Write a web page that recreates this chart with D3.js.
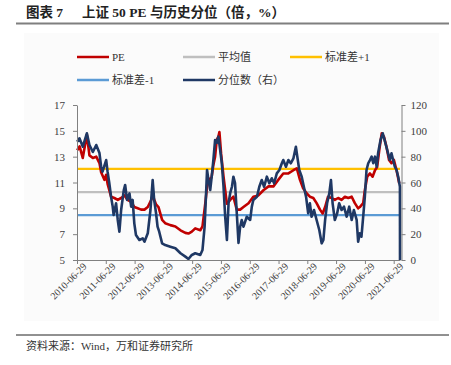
<!DOCTYPE html>
<html>
<head>
<meta charset="utf-8">
<script src="https://cdn.jsdelivr.net/npm/d3@7"></script>
<style>
  body { margin: 0; background: #fff; }
  text { font-family: "Liberation Serif", "Noto Sans CJK SC", serif; }
</style>
</head>
<body>
<div id="chart"></div>
<script>
// PE line (倍)
const peDates = ["2010-07-01","2010-08-01","2010-09-10","2010-11-01","2010-12-04","2011-01-16","2011-02-28","2011-04-10","2011-05-01","2011-06-13",
  "2011-07-04","2011-07-22","2011-08-13","2011-09-04","2011-10-16","2011-11-28","2012-01-10","2012-02-22","2012-04-01","2012-05-16",
  "2012-06-25","2012-08-07","2012-09-19","2012-11-01","2012-12-13","2013-01-25","2013-02-13","2013-03-28","2013-04-28","2013-06-13",
  "2013-07-22","2013-09-25","2013-11-28","2014-02-01","2014-04-04","2014-05-13","2014-06-25","2014-08-07","2014-10-10","2014-11-07",
  "2014-12-13","2015-01-16","2015-02-13","2015-03-04","2015-03-25","2015-04-16","2015-05-07","2015-05-28","2015-06-10","2015-07-01",
  "2015-08-01","2015-09-13","2015-10-25","2015-12-04","2016-01-16","2016-02-28","2016-04-10","2016-06-13","2016-08-13","2016-10-16",
  "2016-12-19","2017-02-22","2017-04-25","2017-06-25","2017-08-28","2017-11-01","2018-01-04","2018-02-16","2018-03-28","2018-05-07",
  "2018-06-22","2018-08-01","2018-09-13","2018-10-25","2018-12-07","2019-01-10","2019-02-10","2019-03-19","2019-05-04","2019-06-13",
  "2019-07-25","2019-09-07","2019-10-19","2019-12-01","2020-01-13","2020-02-22","2020-04-04","2020-04-25","2020-06-07","2020-06-28",
  "2020-07-28","2020-09-01","2020-10-04","2020-11-04","2020-12-01","2020-12-28","2021-01-28","2021-02-25","2021-03-28","2021-05-01",
  "2021-06-01","2021-07-01","2021-08-04","2021-09-07"];
const peValues = [13.5,13.8,12.9,14.7,13.1,12.9,13.0,12.5,11.8,11.2,
  11.6,10.9,10.4,9.9,9.8,9.65,9.8,10.0,9.65,9.5,
  9.1,9.0,8.9,8.9,9.1,9.65,10.0,9.3,9.1,8.1,
  7.85,7.7,7.6,7.3,7.1,7.05,7.2,7.45,7.3,7.6,
  9.4,11.35,11.2,11.45,12.35,13.0,14.3,14.55,14.9,13.25,
  11.45,9.35,9.65,9.9,8.9,8.9,9.1,9.4,9.9,10.0,
  10.4,10.7,10.7,11.2,11.7,11.7,11.95,12.1,11.2,10.55,
  10.15,9.9,9.8,9.4,8.9,8.6,9.1,9.9,9.8,9.65,
  9.8,9.65,9.9,9.8,9.9,9.4,9.0,9.1,9.4,10.4,
  11.45,11.7,11.45,11.95,12.2,13.5,14.8,14.55,13.8,12.75,
  12.5,12.75,11.95,10.95];

// 分位数 (右轴, %)
const pctDates = ["2010-07-01","2010-07-30","2010-09-11","2010-11-01","2010-12-04","2011-01-16","2011-02-28","2011-04-10","2011-05-01","2011-05-19",
  "2011-07-04","2011-07-22","2011-08-13","2011-09-04","2011-09-25","2011-10-07","2011-11-07","2011-11-28","2011-12-19","2012-01-10",
  "2012-02-13","2012-03-01","2012-03-25","2012-04-25","2012-05-16","2012-06-04","2012-06-25","2012-07-16","2012-08-28","2012-10-10",
  "2012-11-01","2012-12-13","2013-01-16","2013-02-13","2013-03-04","2013-03-28","2013-04-16","2013-05-07","2013-06-13","2013-07-22",
  "2013-09-25","2013-11-28","2014-02-01","2014-04-04","2014-05-13","2014-06-25","2014-08-07","2014-10-10","2014-11-07","2014-12-04",
  "2014-12-19","2015-01-04","2015-01-22","2015-02-13","2015-03-04","2015-03-25","2015-04-16","2015-05-07","2015-05-28","2015-06-19",
  "2015-07-10","2015-08-01","2015-08-22","2015-09-13","2015-10-04","2015-10-25","2015-11-16","2015-12-04","2015-12-25","2016-01-16",
  "2016-02-07","2016-02-28","2016-03-19","2016-04-10","2016-05-22","2016-07-04","2016-07-25","2016-08-13","2016-09-28","2016-10-28",
  "2016-11-28","2016-12-28","2017-02-01","2017-03-04","2017-04-04","2017-05-04","2017-06-07","2017-07-10","2017-08-10","2017-08-28",
  "2017-10-01","2017-11-01","2017-12-01","2018-01-04","2018-02-04","2018-02-22","2018-03-19","2018-04-19","2018-05-16","2018-06-13",
  "2018-07-10","2018-08-01","2018-08-22","2018-09-22","2018-10-25","2018-11-28","2018-12-28","2019-01-19","2019-02-10","2019-03-07",
  "2019-04-04","2019-04-25","2019-05-16","2019-06-13","2019-07-13","2019-08-07","2019-09-07","2019-10-07","2019-11-10","2019-12-13",
  "2020-01-13","2020-02-10","2020-03-16","2020-04-04","2020-04-25","2020-05-16","2020-06-07","2020-06-28","2020-07-19","2020-08-10",
  "2020-09-01","2020-09-22","2020-10-13","2020-11-04","2020-11-25","2020-12-13","2021-01-13","2021-02-10","2021-02-28","2021-03-28",
  "2021-04-19","2021-05-10","2021-06-01","2021-06-22","2021-07-13","2021-08-04","2021-08-25","2021-09-16","2021-09-17"];
const pctValues = [91.6,94.2,87.7,98.1,89,83.6,89,82.8,72.2,68.4,
  77.4,68.4,59.4,49,41.3,34.8,43.9,31,21.9,38.7,
  54.2,58.1,46.5,51.6,41.3,46.5,28.4,19.4,15.5,16.8,
  14.2,20.7,38.7,61.9,46.5,36.2,25.8,21.9,12.9,11.6,
  10.3,9.1,5.2,2.6,0.8,3.9,5.2,3.9,7.7,25.8,
  46.5,69.7,61.9,54.2,64.5,77.4,92.9,90.6,95.5,85.2,
  75.1,56.7,33.5,15.5,44.1,51.9,56.7,64.5,59.6,36.4,
  13.2,25.8,31,25.8,33.5,31,41.3,46.5,49,56.7,
  61.9,56.7,64.5,59.4,63.3,59.4,67.1,69.7,74.9,77.4,
  72.2,77.4,74.9,78.7,87.7,80,69.7,64.5,56.7,49,
  36.2,43.9,33.5,38.7,31,23.2,12.9,15.5,31,43.9,
  51.6,61.9,43.9,31,36.2,43.9,38.7,41.3,33.5,41.3,
  31,38.7,31,14.2,20.7,18,33.5,49,69.7,74.9,
  77.4,80,74.9,80,72.2,82.6,92.9,98.1,94.2,87.7,
  82.6,77.4,82.6,77.4,72.2,69.7,64.5,56.7,0];

const refNames = ["平均值", "标准差+1", "标准差-1"];
const refValues = [10.25, 12.05, 8.47];
const leftTicks = [5, 7, 9, 11, 13, 15, 17];
const rightTicks = [0, 20, 40, 60, 80, 100, 120];
const tickDates = ["2010-06-29","2011-06-29","2012-06-29","2013-06-29","2014-06-29","2015-06-29",
  "2016-06-29","2017-06-29","2018-06-29","2019-06-29","2020-06-29","2021-06-29"];

const W = 451, H = 365;
const m = { left: 77, right: 400, top: 105, bottom: 260 };
const parse = d3.timeParse("%Y-%m-%d");
const fmt = d3.timeFormat("%Y-%m-%d");

const svg = d3.select("#chart").append("svg").attr("width", W).attr("height", H);

// faint panel behind the chart
svg.append("rect").attr("x", 24).attr("y", 33).attr("width", 415).attr("height", 288).attr("fill", "#fbfbfb");

// title + rules
const title = svg.append("text").attr("x", 26).attr("y", 17).attr("font-size", 13.5).attr("font-weight", "bold")
  .attr("fill", "#222");
title.append("tspan").text("图表 7");
title.append("tspan").attr("x", 82).text("上证 50 PE 与历史分位（倍，%）");
svg.append("line").attr("x1", 16).attr("x2", 449).attr("y1", 23.5).attr("y2", 23.5)
  .attr("stroke", "#7f7f7f").attr("stroke-width", 2);
svg.append("line").attr("x1", 16).attr("x2", 449).attr("y1", 335).attr("y2", 335)
  .attr("stroke", "#222").attr("stroke-width", 1);
svg.append("text").attr("x", 26).attr("y", 350).attr("font-size", 11).attr("fill", "#333")
  .text("资料来源：Wind，万和证券研究所");

const x = d3.scaleTime().domain([parse("2010-06-29"), parse("2021-09-17")]).range([m.left, m.right]);
const yL = d3.scaleLinear().domain([5, 17]).range([m.bottom, m.top]);
const yR = d3.scaleLinear().domain([0, 120]).range([m.bottom, m.top]);

// reference lines
const refColors = ["#bfbfbf", "#ffc000", "#5b9bd5"];
svg.selectAll(".ref").data(refValues).enter().append("line")
  .attr("x1", m.left).attr("x2", m.right)
  .attr("y1", d => yL(d)).attr("y2", d => yL(d))
  .attr("stroke", (d, i) => refColors[i]).attr("stroke-width", 2.2);

const pe = peDates.map((d, i) => ({ date: parse(d), v: peValues[i] }));
const pct = pctDates.map((d, i) => ({ date: parse(d), v: pctValues[i] }));

svg.append("path").datum(pe).attr("fill", "none").attr("stroke", "#c00000").attr("stroke-width", 2.6)
  .attr("stroke-linejoin", "round")
  .attr("d", d3.line().x(d => x(d.date)).y(d => yL(d.v)));
svg.append("path").datum(pct).attr("fill", "none").attr("stroke", "#1f3864").attr("stroke-width", 2.6)
  .attr("stroke-linejoin", "round")
  .attr("d", d3.line().x(d => x(d.date)).y(d => yR(d.v)));

// axes
function styleAxis(g) {
  g.select(".domain").attr("stroke", "#808080");
  g.selectAll(".tick line").attr("stroke", "#808080");
  g.selectAll("text").attr("fill", "#404040").attr("font-size", 11)
    .attr("font-family", "Liberation Serif, serif");
}
svg.append("g").attr("transform", `translate(${m.left},0)`)
  .call(d3.axisLeft(yL).tickValues(leftTicks).tickSize(4).tickSizeOuter(0).tickPadding(8))
  .call(styleAxis);
svg.append("g").attr("transform", `translate(${m.right + 1.5},0)`)
  .call(d3.axisRight(yR).tickValues(rightTicks).tickSize(4).tickSizeOuter(0).tickPadding(5))
  .call(styleAxis);
const xa = svg.append("g").attr("transform", `translate(0,${m.bottom})`)
  .call(d3.axisBottom(x).tickValues(tickDates.map(parse)).tickFormat(fmt).tickSize(4).tickSizeOuter(0))
  .call(styleAxis);
xa.selectAll("text").attr("font-size", 10).attr("text-anchor", "end")
  .attr("dx", "0.2em").attr("dy", "0.5em")
  .attr("transform", "rotate(-45)");

// legend
const legNames = ["PE", "平均值", "标准差+1", "标准差-1", "分位数（右）"];
const legColors = ["#c00000", "#bfbfbf", "#ffc000", "#5b9bd5", "#1f3864"];
const legX = [77, 183, 290, 77, 183];
const legY = [57, 57, 57, 80, 80];
const leg = svg.selectAll(".leg").data(legNames).enter().append("g")
  .attr("transform", (d, i) => `translate(${legX[i]},${legY[i]})`);
leg.append("line").attr("x1", 0).attr("x2", 32).attr("stroke", (d, i) => legColors[i]).attr("stroke-width", 2.5);
leg.append("text").attr("x", 35).attr("y", 4).attr("font-size", 11).attr("fill", "#333").text(d => d);
</script>
</body>
</html>
